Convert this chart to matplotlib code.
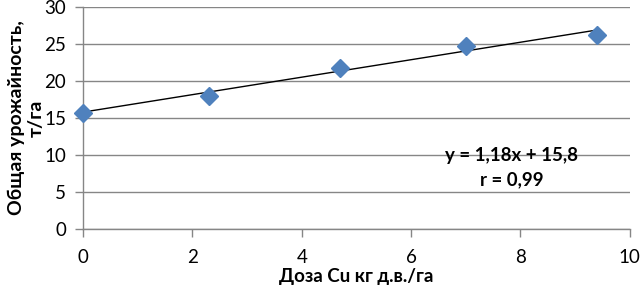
import numpy as np
import matplotlib
matplotlib.use("Agg")
import matplotlib.pyplot as plt

# --- Data ---
dose = [0, 2.3, 4.7, 7.0, 9.4]             # Доза Cu, кг д.в./га
yield_total = [15.7, 18.0, 21.8, 24.8, 26.2]  # Общая урожайность, т/га
slope, intercept = 1.18, 15.8
eq_text = "y = 1,18x + 15,8"
r_text = "r = 0,99"

plt.rcParams['font.family'] = ['Lato', 'DejaVu Sans']

fig = plt.figure(figsize=(6.4, 2.86), dpi=100)
ax = fig.add_axes([0.1297, 0.199, 0.8543, 0.7765])

# --- Trendline ---
xt = np.array([min(dose), max(dose)])
ax.plot(xt, slope * xt + intercept, color='black', lw=1.0, zorder=3)

# --- Points ---
ax.plot(dose, yield_total, 'D', color='#4F81BD', ms=9, mec='#4F81BD', zorder=4,
        clip_on=False)

ax.set_xlim(0, 10)
ax.set_ylim(0, 30)
ax.set_xticks(range(0, 11, 2))
ax.set_yticks(range(0, 31, 5))
ax.grid(axis='y', color='#868686', lw=1.0)
ax.set_axisbelow(True)

for s in ['top', 'right']:
    ax.spines[s].set_visible(False)
for s in ['left', 'bottom']:
    ax.spines[s].set_color('#868686')
    ax.spines[s].set_linewidth(1.0)
ax.tick_params(axis='both', colors='#868686', labelcolor='black', labelsize=13.5,
               length=6, width=1.0, direction='out')
ax.tick_params(axis='x', pad=8)
ax.tick_params(axis='y', pad=6)

ax.set_xlabel("Доза Cu кг д.в./га", fontsize=13.5, fontweight='bold', labelpad=2)
ax.set_ylabel("Общая урожайность,\nт/га", fontsize=14, fontweight='bold',
              labelpad=0, linespacing=1.2)

ax.text(7.84, 10.0, eq_text, fontsize=13.5, fontweight='bold', ha='center', va='center')
ax.text(7.84, 6.6, r_text, fontsize=13.5, fontweight='bold', ha='center', va='center')

fig.savefig("out.png", dpi=100)
